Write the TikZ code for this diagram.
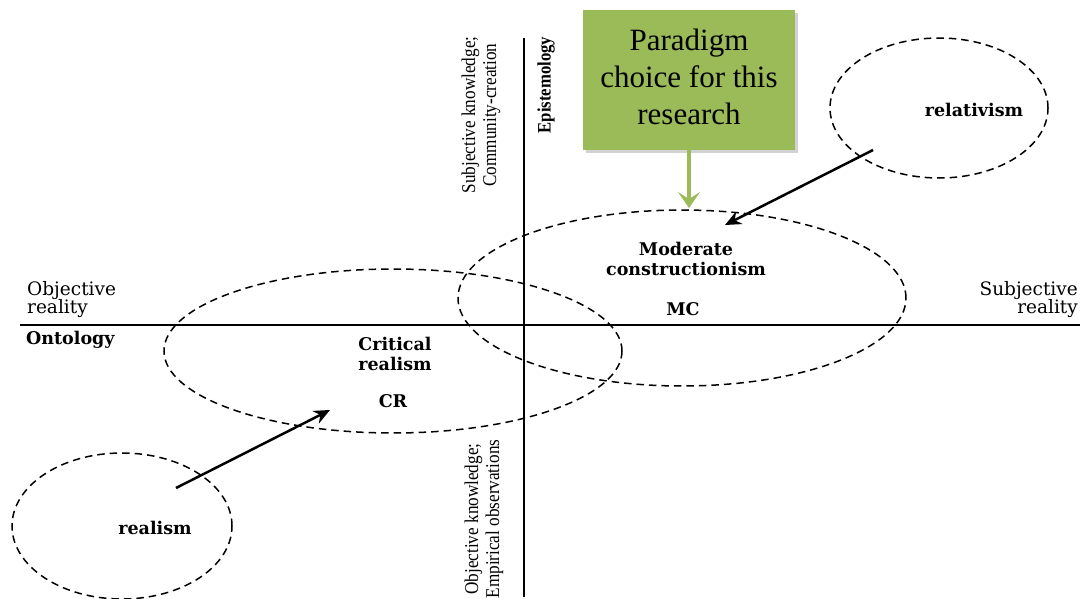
\documentclass[tikz,border=0pt]{standalone}
\usepackage{fontspec}
\setmainfont{Liberation Serif}
\newfontfamily\wideserif{DejaVu Serif}
\newfontfamily\narrowserif[FakeStretch=0.88]{Liberation Serif}
\usetikzlibrary{arrows.meta,shapes.geometric,shadows}
\definecolor{boxgreen}{HTML}{9BBB59}
\tikzset{
  axisline/.style={line width=1.6pt},
  zone/.style={ellipse, draw, dashed, dash pattern=on 7.5pt off 5pt, line width=1.5pt, inner sep=0pt},
  zonelabel/.style={font=\wideserif\bfseries\fontsize{17.5}{19.5}\selectfont, align=center, inner sep=0pt},
  poletext/.style={font=\wideserif\fontsize{18.5}{18.5}\selectfont, inner sep=0pt},
  sidetext/.style={font=\narrowserif\fontsize{19.5}{21}\selectfont, align=center, rotate=90, inner sep=0pt},
  move/.style={line width=2.5pt, -{Stealth[length=16pt,width=14pt]}},
  choicebox/.style={fill=boxgreen, draw=none, minimum width=212pt, minimum height=140pt, inner sep=0pt,
    drop shadow={opacity=0.35, shadow xshift=3pt, shadow yshift=-3pt, fill=gray}},
  choicetext/.style={font=\fontsize{31}{37}\selectfont, align=center, inner sep=0pt},
}
\begin{document}
\begin{tikzpicture}[x=1pt,y=-1pt]
\useasboundingbox (0,0) rectangle (1082,599);
\fill[white] (0,0) rectangle (1082,599);

% axes
\coordinate (hL) at (20,325);
\coordinate (hR) at (1080,325);
\coordinate (vT) at (524,38);
\coordinate (vB) at (524,597);
\draw[axisline] (hL) -- (hR);
\draw[axisline] (vT) -- (vB);

% axis labels
\node[poletext, anchor=north west, align=left] (objreal) at (27,281) {Objective\\reality};
\node[poletext, anchor=north east, align=right] (subreal) at (1078,281) {Subjective\\reality};
\node[poletext, font=\wideserif\bfseries\fontsize{17.5}{19}\selectfont, anchor=west] (onto) at (26,340) {Ontology};
\node[sidetext] (subknow) at (481,115) {Subjective knowledge;\\Community-creation};
\node[sidetext, font=\narrowserif\bfseries\fontsize{19}{21}\selectfont] (episte) at (546,85) {Epistemology};
\node[sidetext] (objknow) at (484,519) {Objective knowledge;\\Empirical observations};

% paradigm zones
\node[zone, minimum width=218pt, minimum height=140pt] (relz) at (939,108) {};
\node[zone, minimum width=448pt, minimum height=176pt] (mcz) at (682,298) {};
\node[zone, minimum width=458pt, minimum height=164pt] (crz) at (393,351) {};
\node[zone, minimum width=220pt, minimum height=146pt] (realz) at (122,526) {};

\node[zonelabel] (rel) at (974,110) {relativism};
\node[zonelabel] (mc) at (686,259) {Moderate\\constructionism};
\node[zonelabel] (mcab) at (683,309) {MC};
\node[zonelabel] (cr) at (395,354) {Critical\\realism};
\node[zonelabel] (crab) at (393,401) {CR};
\node[zonelabel] (real) at (155,528) {realism};

% movements between paradigms
\coordinate (relout) at (873,150);
\coordinate (mcin) at (725,225);
\coordinate (realout) at (176,488);
\coordinate (crin) at (330,410);
\draw[move] (relout) -- (mcin);
\draw[move] (realout) -- (crin);

% chosen paradigm
\node[choicebox] (choice) at (689,80) {};
\node[choicetext] (choicelabel) at (689,77) {Paradigm\\choice for this\\research};
\coordinate (choicetip) at (689,208);
\draw[boxgreen, line width=4pt, -{Stealth[length=16pt,width=22pt,inset=7pt]}] (choice.south) -- (choicetip);
\end{tikzpicture}
\end{document}
